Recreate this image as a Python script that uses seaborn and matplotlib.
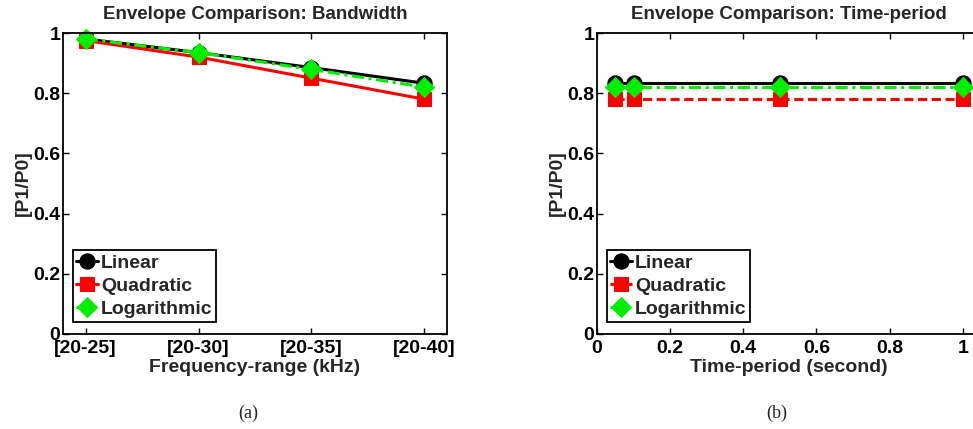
import numpy as np
import pandas as pd
import matplotlib
matplotlib.use("Agg")
import matplotlib.pyplot as plt
import seaborn as sns

# data
envelopes = ["Linear", "Quadratic", "Logarithmic"]
freq_labels = ["[20-25]", "[20-30]", "[20-35]", "[20-40]"]
bw_linear = [0.980, 0.935, 0.885, 0.833]
bw_quadratic = [0.975, 0.920, 0.850, 0.780]
bw_log = [0.980, 0.935, 0.879, 0.820]

time_periods = [0.05, 0.1, 0.5, 1.0]
tp_linear = [0.833, 0.833, 0.833, 0.833]
tp_quadratic = [0.780, 0.780, 0.780, 0.780]
tp_log = [0.820, 0.820, 0.820, 0.820]

colors = {"Linear": "#000000", "Quadratic": "#ff0000", "Logarithmic": "#00ee00"}
markers = {"Linear": "o", "Quadratic": "s", "Logarithmic": "D"}
msizes = {"Linear": 11, "Quadratic": 9.5, "Logarithmic": 10}


def long_df(x, series):
    rows = []
    for name, vals in zip(envelopes, series):
        for xi, v in zip(x, vals):
            rows.append({"x": xi, "y": v, "Envelope": name})
    return pd.DataFrame(rows)


sns.set_theme(style="ticks")
plt.rcParams["font.family"] = ["Liberation Sans", "DejaVu Sans"]
plt.rcParams["font.weight"] = "bold"
plt.rcParams["axes.labelweight"] = "bold"
plt.rcParams["axes.titleweight"] = "bold"
plt.rcParams["xtick.direction"] = "in"
plt.rcParams["ytick.direction"] = "in"
plt.rcParams["xtick.top"] = True
plt.rcParams["ytick.right"] = True

fig = plt.figure(figsize=(9.73, 4.29), dpi=100)
ax1 = fig.add_axes([63 / 973, 95 / 429, 384 / 973, 301 / 429])
ax2 = fig.add_axes([597 / 973, 95 / 429, 384 / 973, 301 / 429])

freq_pos = np.arange(1, len(freq_labels) + 1)
df_bw = long_df(freq_pos, [bw_linear, bw_quadratic, bw_log])
df_tp = long_df(time_periods, [tp_linear, tp_quadratic, tp_log])

dash_a = {"Linear": "", "Quadratic": "", "Logarithmic": (4, 1.5, 1, 1.5)}
dash_b = {"Linear": "", "Quadratic": (3, 1.5), "Logarithmic": (4, 1.5, 1, 1.5)}

for ax, df, dashes in [(ax1, df_bw, dash_a), (ax2, df_tp, dash_b)]:
    sns.lineplot(data=df, x="x", y="y", hue="Envelope", style="Envelope",
                 palette=colors, markers=markers, dashes=dashes,
                 linewidth=2.2, ax=ax, legend=False)
    for ln, name in zip(ax.lines, envelopes):
        ln.set_markeredgecolor(colors[name])
        ln.set_markerfacecolor(colors[name])
        ln.set_markersize(msizes[name])
        ln.set_clip_on(False)
    leg = ax.legend(handles=ax.lines[:3], labels=envelopes, loc="lower left",
                    bbox_to_anchor=(0.025, 0.04), handlelength=1.1,
                    handletextpad=0.15, borderpad=0.2, labelspacing=0.28,
                    borderaxespad=0, fancybox=False, framealpha=1,
                    edgecolor="black", prop={"weight": "bold", "size": 14})
    leg.get_frame().set_linewidth(1.3)
    ax.set_ylim(0, 1)
    ax.set_yticks([0, 0.2, 0.4, 0.6, 0.8, 1])
    ax.set_yticklabels(["0", "0.2", "0.4", "0.6", "0.8", "1"])
    ax.set_ylabel("[P1/P0]", fontsize=14, labelpad=1)
    ax.tick_params(labelsize=14, length=4, width=1, pad=2, colors="black")
    ax.tick_params(axis="x", pad=4)
    for sp in ax.spines.values():
        sp.set_linewidth(1.3)
        sp.set_color("black")
    ax.grid(False)

ax1.set_xlim(0.8, 4.2)
ax1.set_xticks(freq_pos)
ax1.set_xticklabels(freq_labels)
ax1.set_xlabel("Frequency-range (kHz)", fontsize=14, labelpad=2)
ax1.set_title("Envelope Comparison: Bandwidth", fontsize=13.5, pad=10)

ax2.set_xlim(0, 1.05)
ax2.set_xticks([0, 0.2, 0.4, 0.6, 0.8, 1])
ax2.set_xticklabels(["0", "0.2", "0.4", "0.6", "0.8", "1"])
ax2.set_xlabel("Time-period (second)", fontsize=14, labelpad=2)
ax2.set_title("Envelope Comparison: Time-period", fontsize=13.5, pad=10)

fig.text(248 / 973, 16 / 429, "(a)", ha="center", va="center",
         family="Liberation Serif", fontweight="normal", fontsize=13)
fig.text(777 / 973, 16 / 429, "(b)", ha="center", va="center",
         family="Liberation Serif", fontweight="normal", fontsize=13)

fig.savefig("out.png", dpi=100)
